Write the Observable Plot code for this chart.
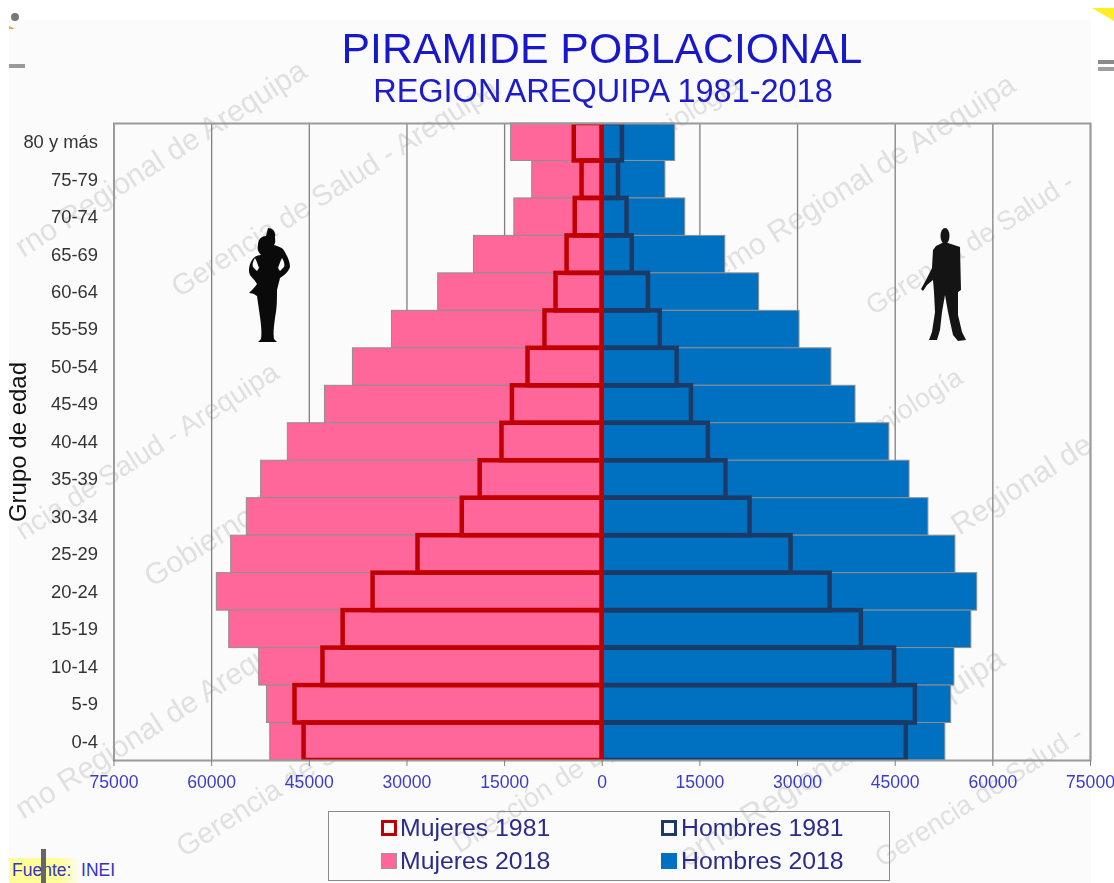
<!DOCTYPE html>
<html><head><meta charset="utf-8">
<script src="https://cdn.jsdelivr.net/npm/d3@7"></script>
<script src="https://cdn.jsdelivr.net/npm/@observablehq/plot@0.6"></script>
<style>
html,body{margin:0;padding:0;background:#fff;font-family:"Liberation Sans",Arial,sans-serif}
#page{position:relative;width:1114px;height:883px;overflow:hidden;filter:blur(.45px)}
#bg{position:absolute;left:9px;top:20px;width:1082px;height:863px;background:#fbfbfb}
.wm{position:absolute;white-space:nowrap;color:#e0e0e0;transform-origin:0 100%;transform:rotate(-32.5deg);line-height:1}
#chart{position:absolute;left:0;top:0}
#chart svg{display:block}
.abs{position:absolute;white-space:nowrap}
#t1{left:0;width:1204px;top:23px;text-align:center;font-size:42.8px;line-height:50px;color:#1717cc}
#t2{left:0;width:1206px;top:73px;text-align:center;font-size:32.5px;line-height:36px;color:#1c1ccc}
#t2 span{margin-left:-4px}
#legend{left:328px;top:811px;width:560px;height:68px;border:1.5px solid #8a8a8a}
.li{position:absolute;font-size:24.8px;line-height:26px;color:#2b2b8c}
.sw{position:absolute;box-sizing:border-box}
#fuente{left:9px;top:858px;width:115px;height:25px;background:linear-gradient(90deg,#ffff99 50px,#fbfbfb 72px);font-size:17.5px;line-height:24px;color:#3434c4;padding-left:3px;box-sizing:border-box}
</style></head><body>
<div id="page">
<div id="bg"></div>
<div id="marks"></div>
<div id="chart"></div>
<svg class="abs" style="left:0;top:0;pointer-events:none" width="1114" height="883">
  <g fill="#0a0a0a">
    <path d="M268 228c5 0 8 4 7 9c0 3 1 5 -1 8c3 1 7 2 9 4c3 5 7 11 7 18c-2 6 -7 9 -10 11c-1 4 -2 8 -3 12c0 10 0 18 -2 28c-1 8 -2 15 -1 21l3 3h-19l3 -3c1 -7 0 -15 -1 -22c-1 -7 -2 -14 -3 -21c-3 -2 -5 -3 -8 -3c3 -3 6 -6 8 -9c-2 -4 -5 -6 -7 -9c-2 -4 -1 -10 2 -15c2 -3 5 -5 9 -5c-3 -3 -4 -6 -3 -10c0 -6 4 -9 8 -9z"/>
    <path d="M255 258c-2 3 -3 7 -2 9l4 4l2 -3c-1 -3 -2 -6 -4 -10zM282 258c2 3 3 7 2 9l-4 4l-2 -3c1 -3 2 -6 4 -10z" fill="#fbfbfb"/>
    <ellipse cx="945" cy="236" rx="4.5" ry="8" fill="#141414"/>
    <path fill="#141414" d="M942 243L948 243L960 247L961 290L958 292L958 315L962 332L966 340L958 341L953 335L948 312L945 295L942 312L940 330L937 340L929 340L932 332L935 312L934 292L933 280L927 285L923 291L921 289L926 280L932 268L933 250L936 246Z"/>
  </g>
  <ellipse cx="15" cy="17" rx="4" ry="4" fill="#777"/>
  <path d="M9 26l6 3h-6z" fill="#f2a33a"/>
  <rect x="9" y="64" width="16" height="4" fill="#9a9a9a"/>
  <path d="M1092 8h22v13z" fill="#ffee22"/>
  <rect x="1098" y="60" width="16" height="4" fill="#8a8a8a"/><rect x="1098" y="67" width="16" height="4" fill="#a0a0a0"/>
</svg>
<div id="t1" class="abs">PIRAMIDE POBLACIONAL</div>
<div id="t2" class="abs">REGION<span> </span>AREQUIPA 1981-2018</div>
<div id="legend" class="abs"></div>
<div id="fuente" class="abs">Fuente:&nbsp; INEI</div>
<div class="abs" style="left:41px;top:849px;width:5px;height:34px;background:#666"></div>
</div>
<script>
const ages = ["80 y más","75-79","70-74","65-69","60-64","55-59","50-54","45-49","40-44","35-39","30-34","25-29","20-24","15-19","10-14","5-9","0-4"];
const mujeres2018 = [14000,10760,13500,19700,25200,32300,38300,42600,48300,52400,54600,57000,59200,57300,52700,51500,51000];
const hombres2018 = [11200,9700,12750,18900,24100,30300,35200,38900,44100,47200,50100,54250,57600,56700,54100,53600,52700];
const mujeres1981 = [4300,3100,4150,5400,7100,8800,11400,13800,15400,18750,21500,28300,35200,39800,42900,47200,45800];
const hombres1981 = [3100,2500,3800,4600,7100,8900,11500,13700,16300,19000,22700,29000,35000,39800,44900,48100,46700];
const xTicks = [-75000,-60000,-45000,-30000,-15000,0,15000,30000,45000,60000,75000];
const watermarks = [
 ["rno Regional de Arequipa",26,262,30],["Gerencia de Salud - Arequipa",182,302,29],
 ["emo Regional de Arequipa",722,284,30],["Gerencia de Salud -",876,320,27],
 ["ncia de Salud - Arequipa",26,545,28],["Gobierno Regional de Arequipa",155,592,30],
 ["Regional de",962,540,30],["mo Regional de Arequipa",26,824,30],
 ["Gerencia de Salud - Arequipa",187,862,29],["Dirección de Epidemiología",462,858,27],
 ["erno Regional de Arequipa",690,872,32],["Gerencia de Salud -",885,872,27],
 ["Epidemiología",823,478,27],["Epidemiología",600,185,27]
];
const legendItems = [
 ["Mujeres 1981",52,6,"#fbfbfb","#c00000",3.5,71],["Hombres 1981",332,6,"#fbfbfb","#1b3a66",3.5,352],
 ["Mujeres 2018",52,39,"#ff6699","#999",1,71],["Hombres 2018",332,39,"#0070c0","#0070c0",1,352]
];

const marks = document.getElementById("marks");
for (const [s,x,y,fs] of watermarks){
  const d=document.createElement("div");d.className="wm";d.textContent=s;
  d.style.left=x+"px";d.style.top=(y-fs)+"px";d.style.fontSize=fs+"px";marks.appendChild(d);
}
const lg=document.getElementById("legend");
for (const [s,sx,sy,fill,stroke,sw,tx] of legendItems){
  const b=document.createElement("div");b.className="sw";
  b.style.cssText=`left:${sx}px;top:${sy+2}px;width:16px;height:16px;background:${fill};border:${sw}px solid ${stroke}`;
  lg.appendChild(b);
  const t=document.createElement("div");t.className="li";t.textContent=s;
  t.style.left=tx+"px";t.style.top=sy-3+"px";lg.appendChild(t);
}

const row=(vals,sign)=>ages.map((a,i)=>({age:a,v:sign*vals[i]}));
const bar=(vals,sign,o)=>Plot.barX(row(vals,sign),{y:"age",x1:0,x2:"v",...o});

const chart = Plot.plot({
  width:1114,height:883,
  marginLeft:113.5,marginRight:24,marginTop:123,marginBottom:123,
  style:{background:"transparent",fontFamily:"'Liberation Sans',Arial,sans-serif",fontSize:"18.4px"},
  x:{domain:[-75000,75000]},
  y:{domain:ages,padding:0,round:false},
  marks:[
    Plot.gridX(xTicks,{stroke:"#7f7f7f",strokeOpacity:1,strokeWidth:1.3}),
    bar(mujeres2018,-1,{fill:"#ff6699",stroke:"#8f8f8f",strokeWidth:1}),
    bar(hombres2018,1,{fill:"#0070c0",stroke:"#8f8f8f",strokeWidth:1}),
    bar(hombres1981,1,{fill:"none",stroke:"#1b3a66",strokeWidth:4.5,clip:"frame"}),
    bar(mujeres1981,-1,{fill:"none",stroke:"#c00000",strokeWidth:4.5,clip:"frame"}),
    Plot.frame({stroke:"#9a9a9a",strokeWidth:2}),
    Plot.axisX({ticks:xTicks,tickFormat:d=>String(Math.abs(d)),label:null,tickSize:6,tickPadding:9,fill:"#3c3ccc",stroke:"#7f7f7f",fontSize:"17.6px"}),
    Plot.axisY({label:"Grupo de edad",labelAnchor:"center",labelArrow:"none",labelOffset:105,tickSize:0,tickPadding:16,fill:"#333"})
  ]
});
document.getElementById("chart").appendChild(chart);
const lab=chart.querySelector('[aria-label="y-axis label"]');
if(lab){lab.style.fontSize="24px";lab.style.fill="#111";}
</script>
</body></html>
